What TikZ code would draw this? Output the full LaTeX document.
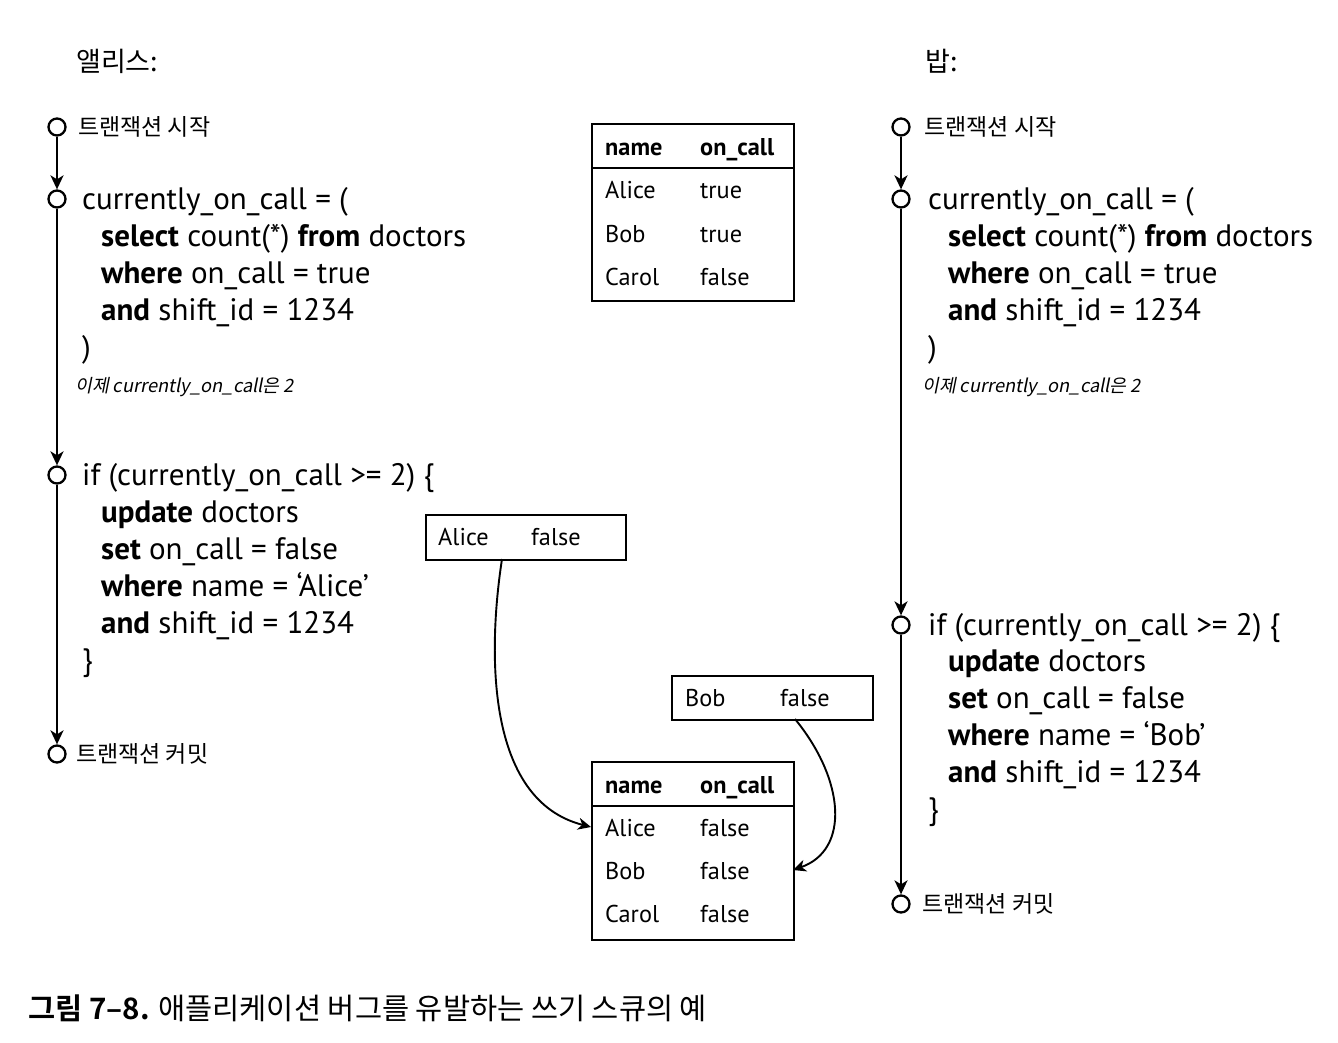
\documentclass[tikz,border=0pt]{standalone}
\usepackage{fontspec}
\setmainfont{PT Sans}
\newfontfamily\kr{Noto Sans CJK KR}
\newfontfamily\krsl{Noto Sans CJK KR}[FakeSlant=0.2]
\newfontfamily\krb{Noto Sans CJK KR Bold}
\usetikzlibrary{arrows.meta}
\begin{document}
\begin{tikzpicture}[x=1pt,y=-1pt,
  code/.style={anchor=base west, inner sep=0, font=\fontsize{31}{34}\selectfont},
  lbl/.style={anchor=base west, inner sep=0, font=\kr\fontsize{23}{26}\selectfont},
  note/.style={anchor=base west, inner sep=0, font=\krsl\fontsize{18.3}{21}\selectfont},
  tbl/.style={anchor=base west, inner sep=0, font=\fontsize{24.3}{28}\selectfont},
  tcirc/.style={circle, draw, line width=2.3pt, minimum size=17pt, inner sep=0},
  tl/.style={line width=2.3pt, -{Stealth[length=14pt,width=13pt,inset=4pt]}},
  box/.style={draw, line width=1.6pt, inner sep=0, anchor=north west},
  carrow/.style={line width=1.9pt, -{Stealth[length=13pt,width=12pt,inset=4pt]}}]
\useasboundingbox (0,0) rectangle (1338,1042);

% headers
\node[lbl, font=\kr\fontsize{27}{30}\selectfont] (alice) at (76,71) {앨리스:};
\node[lbl, font=\kr\fontsize{27}{30}\selectfont] (bob) at (925,71) {밥:};

% ---------- Alice timeline ----------
\node[tcirc] (a0) at (57,127) {};
\node[tcirc] (a1) at (57,199) {};
\node[tcirc] (a2) at (57,475) {};
\node[tcirc] (a3) at (57,754) {};
\draw[tl] (a0) -- (a1.north);
\draw[tl] (a1) -- (a2.north);
\draw[tl] (a2) -- (a3.north);

\node[lbl] (a0l) at (78,135) {트랜잭션 시작};
\node[lbl] (a3l) at (76,762) {트랜잭션 커밋};

\node[code] (ac1) at (82,209) {currently\_on\_call = (};
\node[code] (ac2) at (101,246) {\textbf{select} count(*) \textbf{from} doctors};
\node[code] (ac3) at (101,283) {\textbf{where} on\_call = true};
\node[code] (ac4) at (101,320) {\textbf{and} shift\_id = 1234};
\node[code] (ac5) at (82,357) {)};
\node[note] (an) at (75,392) {이제 currently\_on\_call은 2};

\node[code] (ai1) at (82,485) {if (currently\_on\_call >= 2) \{};
\node[code] (ai2) at (101,522) {\textbf{update} doctors};
\node[code] (ai3) at (101,559) {\textbf{set} on\_call = false};
\node[code] (ai4) at (101,596) {\textbf{where} name = ‘Alice’};
\node[code] (ai5) at (101,633) {\textbf{and} shift\_id = 1234};
\node[code] (ai6) at (82,670) {\}};

% ---------- Bob timeline ----------
\node[tcirc] (b0) at (901,127) {};
\node[tcirc] (b1) at (901,199) {};
\node[tcirc] (b2) at (901,625) {};
\node[tcirc] (b3) at (901,904) {};
\draw[tl] (b0) -- (b1.north);
\draw[tl] (b1) -- (b2.north);
\draw[tl] (b2) -- (b3.north);

\node[lbl] (b0l) at (924,135) {트랜잭션 시작};
\node[lbl] (b3l) at (922,912) {트랜잭션 커밋};

\node[code] (bc1) at (928,209) {currently\_on\_call = (};
\node[code] (bc2) at (948,246) {\textbf{select} count(*) \textbf{from} doctors};
\node[code] (bc3) at (948,283) {\textbf{where} on\_call = true};
\node[code] (bc4) at (948,320) {\textbf{and} shift\_id = 1234};
\node[code] (bc5) at (928,357) {)};
\node[note] (bn) at (922,392) {이제 currently\_on\_call은 2};

\node[code] (bi1) at (928,635) {if (currently\_on\_call >= 2) \{};
\node[code] (bi2) at (948,671) {\textbf{update} doctors};
\node[code] (bi3) at (948,708) {\textbf{set} on\_call = false};
\node[code] (bi4) at (948,745) {\textbf{where} name = ‘Bob’};
\node[code] (bi5) at (948,782) {\textbf{and} shift\_id = 1234};
\node[code] (bi6) at (928,819) {\}};

% ---------- table 1 ----------
\node[box, minimum width=202pt, minimum height=177pt] (t1) at (591,123) {};
\draw[line width=1.6pt] (591,168) -- (793,168);
\node[tbl] (t1h1) at (605,155) {\textbf{name}};
\node[tbl] (t1h2) at (700,155) {\textbf{on\_call}};
\node[tbl] (t1r1a) at (605,198) {Alice};
\node[tbl] (t1r1b) at (700,198) {true};
\node[tbl] (t1r2a) at (605,242) {Bob};
\node[tbl] (t1r2b) at (700,242) {true};
\node[tbl] (t1r3a) at (605,285) {Carol};
\node[tbl] (t1r3b) at (700,285) {false};

% ---------- table 2 ----------
\node[box, minimum width=202pt, minimum height=178pt] (t2) at (591,761) {};
\draw[line width=1.6pt] (591,806) -- (793,806);
\node[tbl] (t2h1) at (605,793) {\textbf{name}};
\node[tbl] (t2h2) at (700,793) {\textbf{on\_call}};
\node[tbl] (t2r1a) at (605,836) {Alice};
\node[tbl] (t2r1b) at (700,836) {false};
\node[tbl] (t2r2a) at (605,879) {Bob};
\node[tbl] (t2r2b) at (700,879) {false};
\node[tbl] (t2r3a) at (605,922) {Carol};
\node[tbl] (t2r3b) at (700,922) {false};

% ---------- update boxes ----------
\node[box, minimum width=200pt, minimum height=45pt] (ab) at (425,514) {};
\node[tbl] (abt1) at (438,545) {Alice};
\node[tbl] (abt2) at (531,545) {false};
\node[box, minimum width=201pt, minimum height=44pt] (bb) at (671,675) {};
\node[tbl] (bbt1) at (685,706) {Bob};
\node[tbl] (bbt2) at (780,706) {false};

\coordinate (as) at (502,559);
\coordinate (ae) at (591,827);
\coordinate (bs) at (795,719);
\coordinate (be) at (793,870);
\draw[carrow] (as) .. controls (488,650) and (485,800) .. (ae);
\draw[carrow] (bs) .. controls (845,780) and (850,850) .. (be);

% caption
\node[anchor=base west, inner sep=0, font=\kr\fontsize{29.5}{32}\selectfont] (cap) at (28,1019) {{\krb 그림 7–8.} 애플리케이션 버그를 유발하는 쓰기 스큐의 예};
\end{tikzpicture}
\end{document}
